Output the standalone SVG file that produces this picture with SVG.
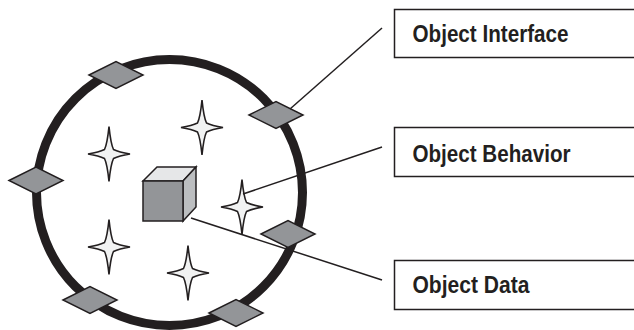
<svg xmlns="http://www.w3.org/2000/svg" width="634" height="330" viewBox="0 0 634 330">
<defs>
<style>
.ring{fill:none;stroke:#231f20;stroke-width:9}
.dia{fill:#939598;stroke:#231f20;stroke-width:1.5;stroke-linejoin:miter}
.star{fill:#f1f2f2;stroke:#231f20;stroke-width:1.6;stroke-linejoin:miter}
.box{fill:#fff;stroke:#231f20;stroke-width:1.5}
.lbl{font-family:"Liberation Sans Narrow","Liberation Sans",Arial,sans-serif;font-weight:bold;font-size:23px;fill:#231f20}
.conn{stroke:#231f20;stroke-width:1.5;fill:none}
</style>
<path id="diamond" d="M-27,0 L0,-13.5 L27,0 L0,13.5 Z"/>
<path id="starShape" d="M0,-27.5 Q1.8,-10 4.5,-4.5 Q10,-1.8 21,0 Q10,1.8 4.5,4.5 Q1.8,10 0,27.5 Q-1.8,10 -4.5,4.5 Q-10,1.8 -21,0 Q-10,-1.8 -4.5,-4.5 Q-1.8,-10 0,-27.5 Z"/>
</defs>
<rect width="634" height="330" fill="#fff"/>
<g id="object">
<circle class="ring" cx="169.5" cy="192.5" r="133"/>
</g>
<g id="interfaces">
<use href="#diamond" class="dia" x="116" y="75"/>
<use href="#diamond" class="dia" x="276" y="115"/>
<use href="#diamond" class="dia" x="36" y="180.5"/>
<use href="#diamond" class="dia" x="288" y="234"/>
<use href="#diamond" class="dia" x="90" y="300"/>
<use href="#diamond" class="dia" x="236" y="313"/>
</g>
<g id="behaviors">
<use href="#starShape" class="star" x="109" y="154"/>
<use href="#starShape" class="star" x="202" y="127.5"/>
<use href="#starShape" class="star" x="109" y="247"/>
<use href="#starShape" class="star" x="188" y="273"/>
<use href="#starShape" class="star" x="242" y="207"/>
</g>
<g id="data-cube" stroke="#231f20" stroke-width="1.5" stroke-linejoin="miter">
<polygon points="143,181 157,167 196,167 183,181" fill="#e6e7e8"/>
<polygon points="183,181 196,167 196,207 183,221" fill="#bcbec0"/>
<rect x="143" y="181" width="40" height="40" fill="#939598"/>
</g>
<g id="connectors">
<line class="conn" x1="290" y1="109" x2="382" y2="28"/>
<line class="conn" x1="243" y1="194" x2="382" y2="147"/>
<line class="conn" x1="191" y1="218" x2="382" y2="280"/>
</g>
<g id="label-interface">
<rect class="box" x="394.5" y="9.5" width="260" height="48"/>
<text class="lbl" x="412.5" y="41.5" textLength="156" lengthAdjust="spacingAndGlyphs">Object Interface</text>
</g>
<g id="label-behavior">
<rect class="box" x="394.5" y="127.5" width="260" height="49"/>
<text class="lbl" x="412.5" y="162" textLength="158" lengthAdjust="spacingAndGlyphs">Object Behavior</text>
</g>
<g id="label-data">
<rect class="box" x="394.5" y="260.5" width="260" height="49"/>
<text class="lbl" x="412.5" y="293" textLength="117" lengthAdjust="spacingAndGlyphs">Object Data</text>
</g>
</svg>
